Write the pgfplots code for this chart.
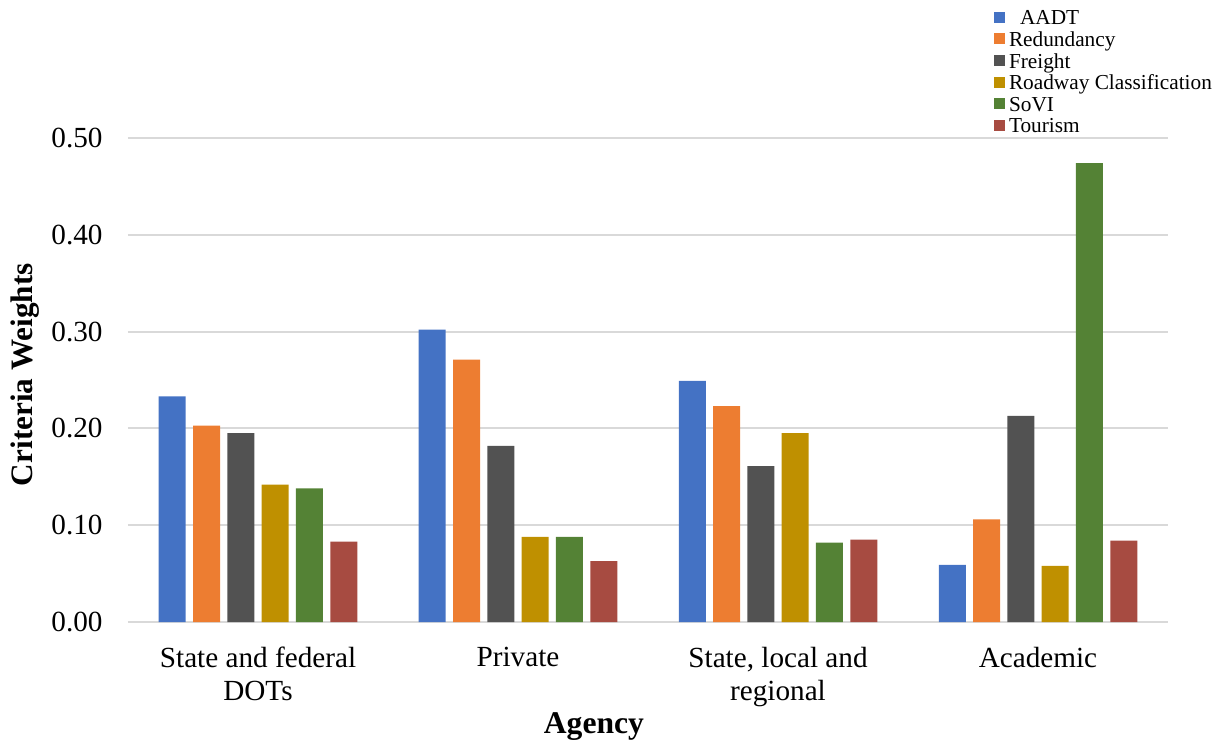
\documentclass[border=0pt]{standalone}
\usepackage{pgfplots}
\pgfplotsset{compat=1.18}
\usepackage{fontspec}
\setmainfont{Liberation Serif}

\definecolor{cAADT}{HTML}{4472C4}
\definecolor{cRed}{HTML}{ED7D31}
\definecolor{cFre}{HTML}{525252}
\definecolor{cRoad}{HTML}{BF9000}
\definecolor{cSov}{HTML}{548235}
\definecolor{cTour}{HTML}{A74B41}
\definecolor{gridgray}{HTML}{D9D9D9}

\begin{document}
\begin{tikzpicture}
\useasboundingbox (-64pt,-61.5pt) rectangle (548.5pt,311pt);
\begin{axis}[
    at={(0,0)}, anchor=south west,
    scale only axis,
    width=520pt, height=242pt,
    ybar=3.65pt, bar width=13.5pt,
    xmin=-0.5, xmax=3.5,
    ymin=0, ymax=0.5,
    xtick={0,1,2,3},
    xticklabels={State and federal\\DOTs, Private, {State, local and\\regional}, Academic},
    ytick={0,0.1,0.2,0.3,0.4,0.5},
    /pgf/number format/assume math mode=true,
    yticklabel={\pgfmathprintnumber[fixed,fixed zerofill,precision=2]{\tick}},
    axis line style={draw=none},
    major tick length=0pt,
    ymajorgrids,
    grid style={color=gridgray, line width=1pt},
    xticklabel style={align=center, anchor=north, inner sep=0pt, yshift=-12.5pt,
        font=\fontsize{14.6}{16.5}\selectfont},
    yticklabel style={anchor=east, inner sep=0pt, xshift=-12.5pt,
        font=\fontsize{14.6}{16.5}\selectfont},
    xlabel={\textbf{Agency}},
    xlabel style={at={(axis description cs:0.448,-0.215)}, anchor=center,
        font=\fontsize{15.8}{18}\selectfont},
    ylabel={\textbf{Criteria Weights}},
    ylabel style={at={(axis description cs:-0.099,0.511)}, anchor=center, rotate=0,
        font=\fontsize{15.6}{18}\selectfont},
    legend style={draw=none, fill=none, inner sep=0pt, outer sep=0pt,
        at={(rel axis cs:0.8327,1.265)}, anchor=north west,
        font=\fontsize{10.65}{10.8}\selectfont,
        nodes={inner sep=0pt, text height=7.6pt, text depth=3.2pt},
        column sep=2pt, row sep=0pt},
    legend cell align=left,
    legend image code/.code={\fill[#1] (0pt,-1.1pt) rectangle (5.5pt,4.4pt);},
]
\addplot[fill=cAADT, draw=none] coordinates {(0,0.233) (1,0.302) (2,0.249) (3,0.059)};
\addplot[fill=cRed, draw=none] coordinates {(0,0.203) (1,0.271) (2,0.223) (3,0.106)};
\addplot[fill=cFre, draw=none] coordinates {(0,0.195) (1,0.182) (2,0.161) (3,0.213)};
\addplot[fill=cRoad, draw=none] coordinates {(0,0.142) (1,0.088) (2,0.195) (3,0.058)};
\addplot[fill=cSov, draw=none] coordinates {(0,0.138) (1,0.088) (2,0.082) (3,0.474)};
\addplot[fill=cTour, draw=none] coordinates {(0,0.083) (1,0.063) (2,0.085) (3,0.084)};
\legend{\hspace{5.5pt}AADT, Redundancy, Freight, Roadway Classification, SoVI, Tourism}
\end{axis}
\end{tikzpicture}
\end{document}
